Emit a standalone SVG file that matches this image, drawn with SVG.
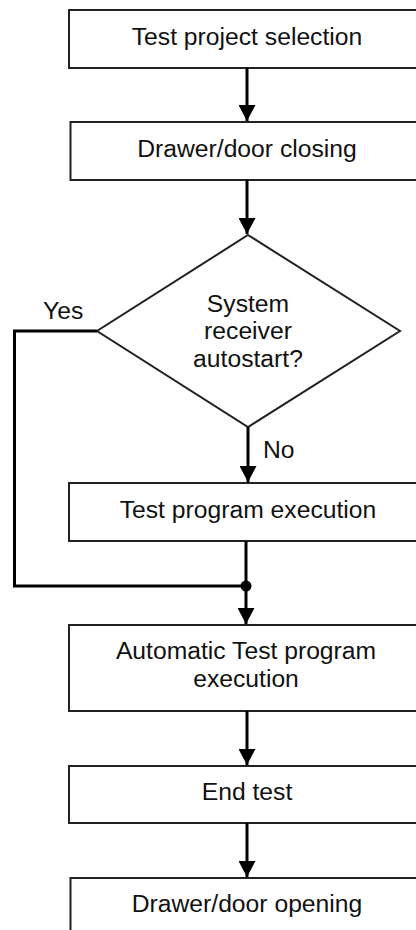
<svg xmlns="http://www.w3.org/2000/svg" width="416" height="930" viewBox="0 0 416 930">
  <style>
    .box { fill: #ffffff; stroke: #222222; stroke-width: 2; }
    .wire { fill: none; stroke: #000000; stroke-width: 3; }
    .lbl { font-family: "Liberation Sans", Arial, sans-serif; font-size: 24.7px; fill: #111111; text-anchor: middle; }
    .side { font-family: "Liberation Sans", Arial, sans-serif; font-size: 24.7px; fill: #111111; }
  </style>
  <defs>
    <marker id="arrow" markerUnits="userSpaceOnUse" markerWidth="18" markerHeight="17" refX="17" refY="9" orient="auto" viewBox="0 0 18 18">
      <path d="M0,0 L17,9 L0,18 Z" fill="#000000"/>
    </marker>
  </defs>
  <rect width="416" height="930" fill="#ffffff"/>

  <!-- process steps -->
  <g id="node-select">
    <rect class="box" x="69" y="10" width="360" height="58"/>
    <text class="lbl" x="247" y="45">Test project selection</text>
  </g>
  <g id="node-close">
    <rect class="box" x="70.5" y="122" width="360" height="58"/>
    <text class="lbl" x="247" y="157">Drawer/door closing</text>
  </g>
  <g id="node-autostart">
    <polygon class="box" points="248,235 400,331 248,427 97,331"/>
    <text class="lbl" x="248" y="312">System</text>
    <text class="lbl" x="248" y="339">receiver</text>
    <text class="lbl" x="248" y="367">autostart?</text>
  </g>
  <g id="node-exec">
    <rect class="box" x="69" y="483" width="360" height="58"/>
    <text class="lbl" x="248" y="518">Test program execution</text>
  </g>
  <g id="node-auto-exec">
    <rect class="box" x="69" y="625" width="360" height="86"/>
    <text class="lbl" x="246" y="659">Automatic Test program</text>
    <text class="lbl" x="246" y="687">execution</text>
  </g>
  <g id="node-end">
    <rect class="box" x="69" y="766" width="360" height="57"/>
    <text class="lbl" x="247" y="800">End test</text>
  </g>
  <g id="node-open">
    <rect class="box" x="70.5" y="878" width="360" height="70"/>
    <text class="lbl" x="247" y="912">Drawer/door opening</text>
  </g>

  <!-- connectors -->
  <g id="connectors">
    <path class="wire" d="M247,68 V121" marker-end="url(#arrow)"/>
    <path class="wire" d="M247,180 V234" marker-end="url(#arrow)"/>
    <path class="wire" d="M248,427 V482" marker-end="url(#arrow)"/>
    <path class="wire" d="M97,331 H14.5 V586 H246"/>
    <path class="wire" d="M246,541 V624" marker-end="url(#arrow)"/>
    <circle cx="246" cy="586" r="5.5" fill="#000000"/>
    <path class="wire" d="M247,711 V765" marker-end="url(#arrow)"/>
    <path class="wire" d="M247,823 V877" marker-end="url(#arrow)"/>
    <text class="side" x="43" y="319">Yes</text>
    <text class="side" x="263" y="458">No</text>
  </g>
</svg>
